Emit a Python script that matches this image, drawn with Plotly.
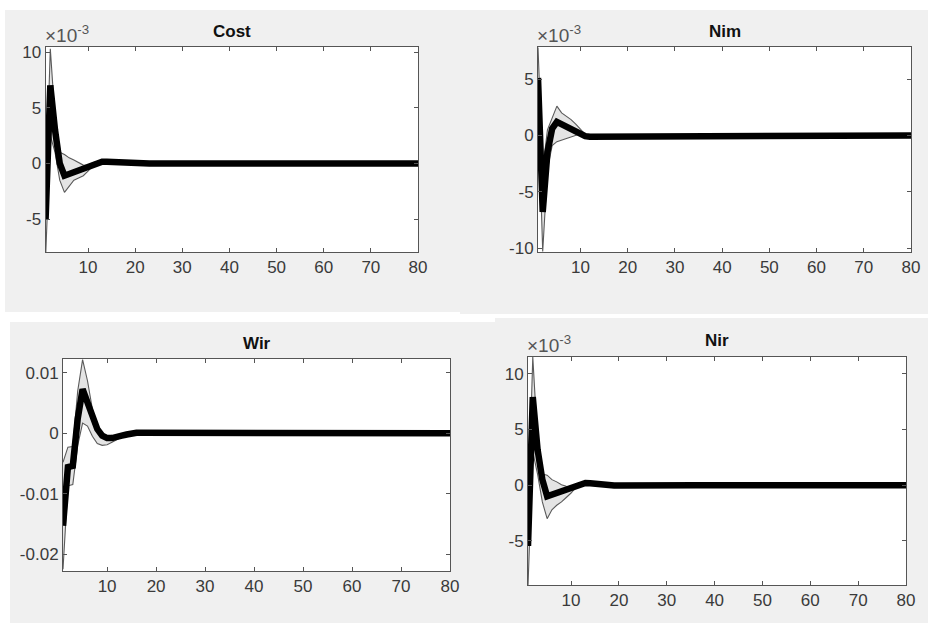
import plotly.graph_objects as go

N = 80
periods = list(range(1, N + 1))

def pad(vals):
    # responses are flat at zero for the remaining periods
    return list(vals) + [0.0] * (N - len(vals))

# ---- Cost (x 1e-3) ----
cost_med = pad([-5.0, 7.0, 3.0, 0.0, -1.1, -0.95, -0.8, -0.65, -0.5, -0.3, -0.05, 0.1, 0.15, 0.15, 0.12, 0.08, 0.03, 0.0, -0.02, -0.03, -0.03, -0.02, -0.01])
cost_up = pad([-3.0, 10.3, 4.0, 1.0, 0.8, 0.5, 0.3, 0.05, -0.15, -0.2, 0.05, 0.2, 0.25, 0.22, 0.18, 0.12, 0.07, 0.03, 0.0, -0.01])
cost_lo = pad([-8.5, 2.5, 1.0, -1.5, -2.6, -2.0, -1.5, -1.3, -1.1, -0.7, -0.25, 0.0, 0.05, 0.08, 0.06, 0.03, 0.0, -0.03, -0.05, -0.05, -0.04, -0.03, -0.02])

# ---- Nim (x 1e-3) ----
nim_med = pad([5.1, -6.8, -1.5, 0.6, 1.2, 0.97, 0.77, 0.53, 0.24, 0.09, -0.06, -0.12, -0.12, -0.1, -0.08, -0.05, -0.03, -0.01, 0.0, 0.01])
nim_up = pad([7.8, -3.0, 0.5, 1.5, 2.6, 2.0, 1.7, 1.4, 1.0, 0.5, 0.1, -0.05, -0.05, -0.04, -0.02, 0.0, 0.02, 0.03, 0.03, 0.02])
nim_lo = pad([3.0, -10.3, -3.0, -0.9, -0.55, -0.4, -0.3, -0.15, 0.05, 0.15, 0.0, -0.15, -0.2, -0.18, -0.12, -0.08, -0.05, -0.03, -0.02, -0.01])

# ---- Wir ----
wir_med = pad([-0.0153, -0.0056, -0.0054, 0.0024, 0.0073, 0.0051, 0.0024, 0.0007, -0.0004, -0.0008, -0.0008, -0.0007, -0.0004, -0.0002, 0.0, 0.0001, 0.0001, 0.0001, 0.0001])
wir_up = pad([-0.0048, -0.0023, -0.0022, 0.007, 0.0122, 0.0087, 0.004, 0.001, 0.0, -0.0004, -0.0005, -0.0004, -0.0002, 0.0, 0.0002, 0.0003, 0.0003, 0.0002, 0.0001])
wir_lo = pad([-0.0225, -0.0087, -0.0085, -0.002, 0.0017, 0.0012, -0.0005, -0.0017, -0.002, -0.0019, -0.0015, -0.001, -0.0006, -0.0003, -0.0001, 0.0, 0.0, -0.0001, -0.0001])

# ---- Nir (x 1e-3) ----
nir_med = pad([-5.45, 7.9, 3.2, 0.5, -1.0, -0.85, -0.7, -0.55, -0.35, -0.15, 0.05, 0.15, 0.2, 0.18, 0.12, 0.06, 0.02, 0.0, -0.02, -0.02, -0.01])
nir_up = pad([-3.0, 11.5, 4.0, 1.0, 0.9, 0.5, 0.3, 0.05, -0.1, -0.15, 0.1, 0.25, 0.3, 0.25, 0.18, 0.1, 0.05, 0.02, 0.0, -0.01])
nir_lo = pad([-9.0, 3.0, 1.0, -1.5, -3.0, -2.2, -1.8, -1.5, -1.1, -0.7, -0.2, 0.0, 0.05, 0.05, 0.02, -0.02, -0.04, -0.05, -0.05, -0.04, -0.03, -0.02])

titles = ["Cost", "Nim", "Wir", "Nir"]
x_ticks = [10, 20, 30, 40, 50, 60, 70, 80]
y_ticks = {
    "Cost": ([-5, 0, 5, 10], ["-5", "0", "5", "10"]),
    "Nim": ([-10, -5, 0, 5], ["-10", "-5", "0", "5"]),
    "Wir": ([-0.02, -0.01, 0, 0.01], ["-0.02", "-0.01", "0", "0.01"]),
    "Nir": ([-5, 0, 5, 10], ["-5", "0", "5", "10"]),
}
y_ranges = {
    "Cost": [-7.95, 10.45],
    "Nim": [-10.35, 7.85],
    "Wir": [-0.0228, 0.0123],
    "Nir": [-8.95, 11.5],
}
series = {
    "Cost": (cost_lo, cost_up, cost_med),
    "Nim": (nim_lo, nim_up, nim_med),
    "Wir": (wir_lo, wir_up, wir_med),
    "Nir": (nir_lo, nir_up, nir_med),
}
scaled = {"Cost": True, "Nim": True, "Wir": False, "Nir": True}

W, H = 928, 623
# plot boxes in pixels: (left, right, top, bottom)
boxes = {
    "Cost": (45.6, 418, 47, 252),
    "Nim": (538, 911, 47, 252),
    "Wir": (63, 450, 359, 571),
    "Nir": (528, 906, 357, 585),
}
title_y = {"Cost": 32, "Nim": 32, "Wir": 343, "Nir": 340}
# grey figure panels (left, right, top, bottom) in pixels
panels = [(5, 460, 10, 312), (460, 928, 10, 314), (10, 495, 322, 623), (495, 928, 318, 623)]

fig = go.Figure()
AX = "#555555"
TXT = "#3a3a3a"
FONT = "Liberation Sans, Arial, sans-serif"

for (l, r, t, b) in panels:
    fig.add_shape(type="rect", xref="paper", yref="paper", x0=l / W, x1=r / W,
                  y0=1 - b / H, y1=1 - t / H, fillcolor="#f0f0f0", line=dict(width=0), layer="below")

for i, name in enumerate(titles):
    k = i + 1
    xa = "x" if k == 1 else f"x{k}"
    ya = "y" if k == 1 else f"y{k}"
    lo, up, med = series[name]
    fig.add_trace(go.Scatter(x=periods, y=lo, xaxis=xa, yaxis=ya, mode="lines",
                             line=dict(color="#5a5a5a", width=1.1), showlegend=False, hoverinfo="skip"))
    fig.add_trace(go.Scatter(x=periods, y=up, xaxis=xa, yaxis=ya, mode="lines", fill="tonexty",
                             fillcolor="#e4e4e4", line=dict(color="#5a5a5a", width=1.1),
                             showlegend=False, hoverinfo="skip"))
    fig.add_trace(go.Scatter(x=periods, y=med, xaxis=xa, yaxis=ya, mode="lines",
                             line=dict(color="#000000", width=6.5), showlegend=False))

    l, r, t, b = boxes[name]
    xd = [l / W, r / W]
    yd = [1 - b / H, 1 - t / H]
    # white plot area
    fig.add_shape(type="rect", xref="paper", yref="paper", x0=xd[0], x1=xd[1], y0=yd[0], y1=yd[1],
                  fillcolor="white", line=dict(width=0), layer="below")
    axis_common = dict(showline=True, linecolor=AX, linewidth=1, mirror="allticks",
                       ticks="inside", ticklen=4, tickcolor=AX, showgrid=False, zeroline=False,
                       automargin=False,
                       tickfont=dict(family=FONT, size=17, color=TXT))
    xkey = "xaxis" if k == 1 else f"xaxis{k}"
    ykey = "yaxis" if k == 1 else f"yaxis{k}"
    fig.update_layout(**{
        xkey: dict(domain=xd, range=[1, 80], anchor=ya, tickvals=x_ticks,
                   ticktext=[str(v) for v in x_ticks], **axis_common),
        ykey: dict(domain=yd, range=y_ranges[name], anchor=xa, tickvals=y_ticks[name][0],
                   ticktext=y_ticks[name][1], **axis_common),
    })
    fig.add_annotation(x=(l + r) / 2 / W, y=1 - title_y[name] / H, xref="paper", yref="paper",
                       text=f"<b>{name}</b>", showarrow=False, xanchor="center", yanchor="middle",
                       font=dict(family=FONT, size=17, color="#111111"))
    if scaled[name]:
        fig.add_annotation(x=l / W, y=1 - t / H, xref="paper", yref="paper",
                           text="×10<sup>-3</sup>", showarrow=False, xanchor="left", yanchor="bottom",
                           xshift=-3, yshift=-1, font=dict(family=FONT, size=19, color="#555555"))

fig.update_layout(width=W, height=H, margin=dict(l=0, r=0, t=0, b=0, autoexpand=False),
                  paper_bgcolor="white", plot_bgcolor="white",
                  font=dict(family=FONT))

js = ("var s=document.documentElement.style;s.margin='0';s.padding='0';s.overflow='hidden';"
      "var b=document.body.style;b.margin='0';b.padding='0';b.overflow='hidden';")
fig.write_html("out.html", config={"displayModeBar": False}, post_script=js)
